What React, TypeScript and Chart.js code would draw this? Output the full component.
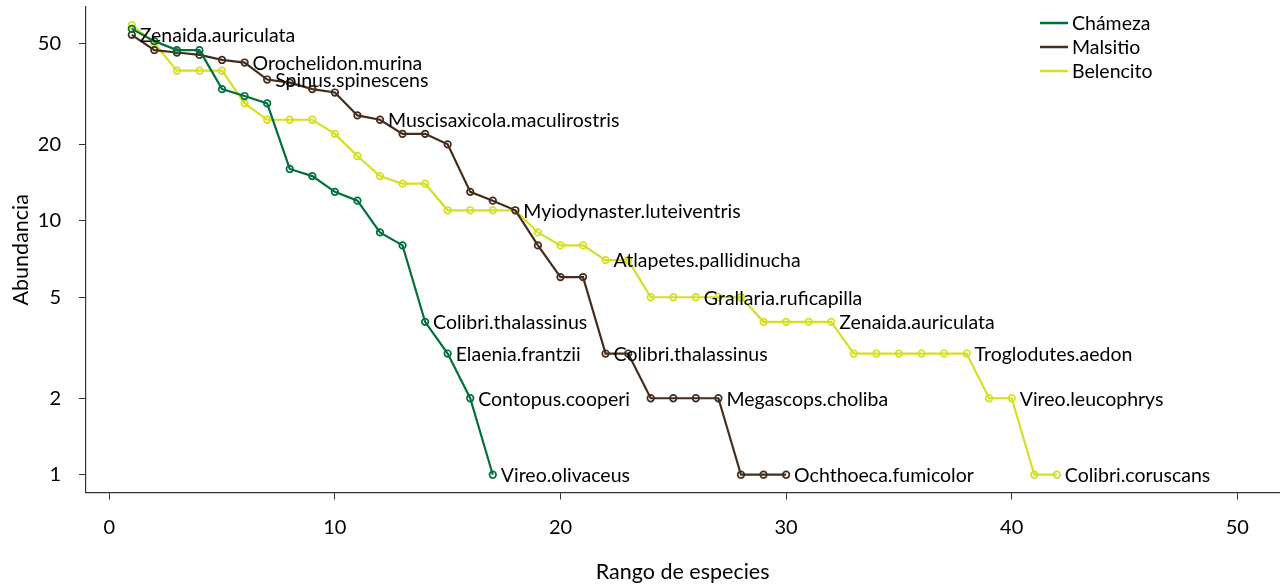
import React, { useEffect, useRef } from "react";
import { Chart, registerables } from "chart.js";

Chart.register(...registerables);

// ---- Data ----
const seriesNames = ["Chámeza", "Malsitio", "Belencito"];
const seriesColors = ["rgb(0,112,60)", "rgb(70,44,28)", "rgb(214,222,36)"];

const chamezaAbund = [57, 51, 47, 47, 33, 31, 29, 16, 15, 13, 12, 9, 8, 4, 3, 2, 1];
const malsitioAbund = [54, 47, 46, 45, 43, 42, 36, 35, 33, 32, 26, 25, 22, 22, 20, 13, 12, 11, 8, 6, 6, 3, 3, 2, 2, 2, 2, 1, 1, 1];
const belencitoAbund = [59, 50, 39, 39, 39, 29, 25, 25, 25, 22, 18, 15, 14, 14, 11, 11, 11, 11, 9, 8, 8, 7, 7, 5, 5, 5, 5, 5, 4, 4, 4, 4, 3, 3, 3, 3, 3, 3, 2, 2, 1, 1];

const chamezaLabelRanks = [14, 15, 16, 17];
const chamezaLabelNames = ["Colibri.thalassinus", "Elaenia.frantzii", "Contopus.cooperi", "Vireo.olivaceus"];
const malsitioLabelRanks = [1, 6, 7, 12, 18, 22, 27, 30];
const malsitioLabelNames = [
  "Zenaida.auriculata",
  "Orochelidon.murina",
  "Spinus.spinescens",
  "Muscisaxicola.maculirostris",
  "Myiodynaster.luteiventris",
  "Colibri.thalassinus",
  "Megascops.choliba",
  "Ochthoeca.fumicolor",
];
const belencitoLabelRanks = [22, 26, 32, 38, 40, 42];
const belencitoLabelNames = [
  "Atlapetes.pallidinucha",
  "Grallaria.ruficapilla",
  "Zenaida.auriculata",
  "Troglodutes.aedon",
  "Vireo.leucophrys",
  "Colibri.coruscans",
];

const xTicks = [0, 10, 20, 30, 40, 50];
const yTicks = [1, 2, 5, 10, 20, 50];
const xTitle = "Rango de especies";
const yTitle = "Abundancia";

const FONT = "Lato, 'Open Sans', sans-serif";

const allAbund = [chamezaAbund, malsitioAbund, belencitoAbund];
const allLabelRanks = [chamezaLabelRanks, malsitioLabelRanks, belencitoLabelRanks];
const allLabelNames = [chamezaLabelNames, malsitioLabelNames, belencitoLabelNames];

const pointLabelPlugin = {
  id: "pointLabels",
  afterDatasetsDraw(chart: any) {
    const ctx = chart.ctx;
    const xs = chart.scales.x;
    const ys = chart.scales.y;
    ctx.save();
    ctx.font = `19.5px ${FONT}`;
    ctx.fillStyle = "#000";
    ctx.textAlign = "left";
    ctx.textBaseline = "middle";
    allLabelRanks.forEach((ranks, si) => {
      ranks.forEach((r, k) => {
        const v = allAbund[si][r - 1];
        const px = xs.getPixelForValue(r);
        const py = ys.getPixelForValue(v);
        ctx.fillText(allLabelNames[si][k], px + 8, py + 1);
      });
    });
    ctx.restore();
  },
};

const legendPlugin = {
  id: "customLegend",
  afterDraw(chart: any) {
    const ctx = chart.ctx;
    ctx.save();
    ctx.font = `19.5px ${FONT}`;
    ctx.textAlign = "left";
    ctx.textBaseline = "middle";
    chart.data.datasets.forEach((ds: any, i: number) => {
      const y = 23 + i * 24;
      ctx.strokeStyle = ds.borderColor;
      ctx.lineWidth = 2.5;
      ctx.beginPath();
      ctx.moveTo(1040, y);
      ctx.lineTo(1068, y);
      ctx.stroke();
      ctx.fillStyle = "#000";
      ctx.fillText(ds.label, 1072, y + 1);
    });
    ctx.restore();
  },
};

export default function App() {
  const canvasRef = useRef<HTMLCanvasElement | null>(null);

  useEffect(() => {
    if (!canvasRef.current) return;
    const datasets = allAbund.map((vals, si) => ({
      label: seriesNames[si],
      data: vals.map((v, i) => ({ x: i + 1, y: v })),
      borderColor: seriesColors[si],
      backgroundColor: "transparent",
      pointBorderColor: seriesColors[si],
      pointBackgroundColor: "transparent",
      pointRadius: 3.3,
      pointBorderWidth: 1.7,
      borderWidth: 2.2,
      tension: 0,
      fill: false,
    }));

    const chart = new Chart(canvasRef.current, {
      type: "line",
      data: { datasets },
      plugins: [pointLabelPlugin, legendPlugin],
      options: {
        animation: false,
        responsive: false,
        maintainAspectRatio: false,
        layout: { padding: { top: 7, left: 0, right: 0, bottom: 0 } },
        plugins: {
          legend: { display: false },
          tooltip: { enabled: false },
        },
        scales: {
          x: {
            type: "linear",
            min: -1.03,
            max: 51.86,
            afterBuildTicks: (scale: any) => {
              scale.ticks = xTicks.map((v) => ({ value: v }));
            },
            afterFit: (scale: any) => {
              scale.height = 92.5;
              scale.paddingLeft = 0;
              scale.paddingRight = 0;
            },
            grid: {
              drawOnChartArea: false,
              drawTicks: true,
              tickLength: 7,
              tickColor: "#333",
              tickWidth: 1,
            },
            border: { display: true, color: "#333", width: 1.2 },
            ticks: {
              color: "#000",
              font: { family: FONT, size: 20 },
              padding: 16,
              maxRotation: 0,
              callback: (v: any) => String(v),
            },
            title: {
              display: true,
              text: xTitle,
              color: "#000",
              font: { family: FONT, size: 21.5 },
              padding: { top: 0, bottom: 0 },
            },
          },
          y: {
            type: "logarithmic",
            min: 0.851,
            max: 69.5,
            afterBuildTicks: (scale: any) => {
              scale.ticks = yTicks.map((v) => ({ value: v }));
            },
            afterFit: (scale: any) => {
              scale.width = 86;
              scale.paddingTop = 0;
              scale.paddingBottom = 0;
            },
            grid: {
              drawOnChartArea: false,
              drawTicks: true,
              tickLength: 7,
              tickColor: "#333",
              tickWidth: 1,
            },
            border: { display: true, color: "#333", width: 1.2 },
            ticks: {
              color: "#000",
              font: { family: FONT, size: 20 },
              padding: 18,
              callback: (v: any) => String(v),
            },
            title: {
              display: true,
              text: yTitle,
              color: "#000",
              font: { family: FONT, size: 21.5 },
              padding: { top: 8, bottom: 0 },
            },
          },
        },
      } as any,
    });
    return () => chart.destroy();
  }, []);

  return (
    <div style={{ position: "absolute", left: 0, top: 0, width: 1285, height: 585, background: "#fff" }}>
      <canvas ref={canvasRef} width={1285} height={585} style={{ width: 1285, height: 585, display: "block" }} />
    </div>
  );
}
